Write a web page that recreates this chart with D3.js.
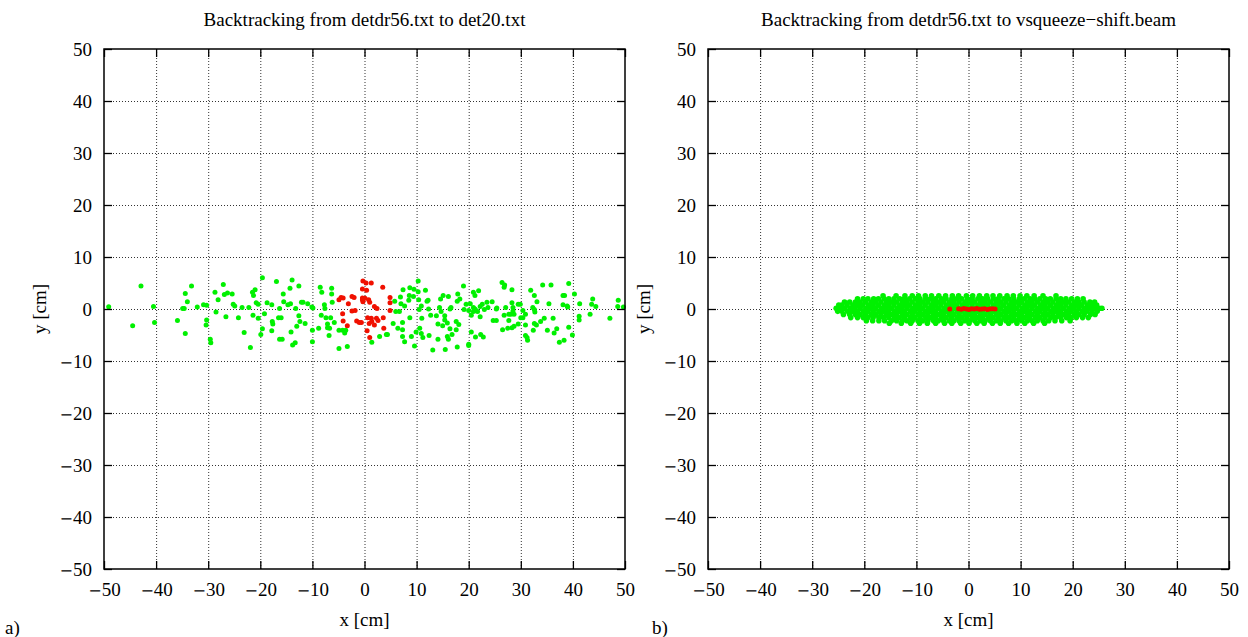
<!DOCTYPE html>
<html>
<head>
<meta charset="utf-8">
<script src="https://cdn.jsdelivr.net/npm/d3@7"></script>
<style>
  html, body { margin: 0; padding: 0; background: #fff; }
  svg { display: block; font-family: "Liberation Serif", "Times New Roman", serif; }
  .grid line { stroke: #333; stroke-width: 1; stroke-dasharray: 1 2; }
  .grid path { display: none; }
  .ax path { display: none; }
  .ax line { stroke: #000; stroke-width: 1.3; }
  .ax text { font-size: 19px; fill: #000; font-family: "Liberation Serif", serif; }
  .ax tspan.minus { font-family: "DejaVu Serif", serif; font-size: 16px; }
</style>
</head>
<body>
<script>
// Tick values shared by both panels
const xTicks = [-50, -40, -30, -20, -10, 0, 10, 20, 30, 40, 50];
const yTicks = [-50, -40, -30, -20, -10, 0, 10, 20, 30, 40, 50];

// Panel a): particles backtracked to det20.txt
const detGreenX = [-49.1,-42.9,-44.5,-40.5,-40.3,-35.9,-34.4,-33.2,-34.0,-34.9,-34.6,-34.4,-32.1,-30.9,-30.3,-30.3,-30.4,-29.6,-29.5,-28.7,-28.1,-28.5,-27.1,-26.9,-26.3,-25.4,-26.6,-25.2,-24.9,
  -19.6,-21.5,-21.0,-21.3,-20.8,-20.4,-23.5,-22.2,-24.2,-21.4,-20.4,-19.2,-19.6,-19.9,-23.1,-21.9,-18.7,-17.8,-16.9,-17.7,-17.6,-17.8,-16.5,-16.0,-16.3,-15.8,-16.3,-15.6,-15.5,-14.7,-14.2,-14.3,-13.9,-12.6,-13.2,-12.6,-12.4,-12.1,-11.8,-13.0,-14.1,-13.3,-13.8,-11.4,-10.9,-10.1,-9.9,-10.0,-10.0,-8.8,-8.5,-8.2,-8.3,-7.7,-7.6,-7.1,-7.1,-6.7,-6.8,-7.4,-6.5,-6.3,-6.3,-6.2,-5.8,-4.9,-4.2,-3.8,-3.6,-4.9,-3.3,
  1.4,2.9,4.2,4.4,5.5,6.4,5.8,6.0,6.9,7.0,7.4,7.7,6.7,7.3,7.3,7.3,7.7,8.6,8.7,9.4,9.5,8.5,8.7,9.0,9.6,9.9,10.3,10.3,10.4,10.5,10.9,10.6,10.9,11.2,11.0,11.7,12.0,12.2,12.3,12.4,12.7,13.1,13.8,14.1,14.1,14.4,14.6,14.7,15.1,15.0,15.4,15.4,15.5,15.9,15.9,16.1,16.1,16.4,16.6,16.4,16.8,17.6,17.6,17.8,17.9,18.3,19.0,17.8,18.1,19.1,19.5,20.0,20.0,20.0,20.3,20.5,20.5,20.9,20.9,21.2,21.4,21.7,20.9,22.2,21.2,21.3,21.9,22.2,22.3,22.8,22.6,23.0,23.7,23.5,24.7,24.5,
  25.3,25.4,25.3,26.4,26.9,26.8,28.3,27.1,28.3,28.5,28.5,26.8,27.7,28.1,28.7,27.7,26.5,27.5,28.3,28.7,29.5,29.9,29.5,30.0,30.4,30.4,30.9,30.9,30.9,31.2,31.3,31.9,32.6,32.3,32.6,32.7,33.1,32.6,33.0,32.4,33.8,34.2,34.5,35.4,35.1,35.8,36.2,36.4,36.9,37.4,38.1,38.4,38.1,38.3,38.9,39.0,39.2,39.2,39.9,40.3,41.3,41.2,41.2,43.3,43.6,43.8,44.4,47.1,48.7,48.6,49.7];
const detGreenY = [0.45,4.4,-3.2,0.5,-2.6,-2.2,3.0,4.4,1.4,0.1,0.1,-4.7,0.4,0.8,0.7,-2.1,-3.1,-5.8,-6.5,3.2,1.8,-0.6,4.7,2.8,3.1,2.9,-1.5,0.9,0.6,
  6.0,3.2,3.7,2.6,1.2,0.9,0.3,0.3,-1.7,-1.2,-1.8,-0.9,-3.8,-4.9,-4.5,-7.4,1.2,0.8,5.3,-2.4,-2.9,-4.2,-1.7,-1.7,-5.8,-5.8,0.1,2.9,1.4,0.8,1.0,4.0,5.6,4.4,0.1,-1.3,-2.4,1.3,1.3,-3.3,-4.4,-6.5,-6.9,-2.8,1.0,0.4,0.2,-4.1,-6.3,-3.7,4.2,3.2,-1.2,0.8,0.1,-2.9,-3.6,-3.7,-5.1,-1.7,-1.7,4.0,2.9,1.3,-2.6,-4.1,-4.1,-4.6,-4.1,-7.6,-7.2,
  -6.4,-5.3,-4.9,-4.9,-2.8,-3.7,1.5,-0.5,2.3,1.0,3.7,0.6,-0.5,-2.6,-4.0,-5.3,-6.3,2.6,4.1,2.4,3.8,1.7,-1.7,-5.3,-7.1,-4.4,5.4,3.3,1.8,-0.1,0.6,-3.7,-4.7,-5.5,-1.8,3.6,1.5,1.7,0.0,-5.1,-1.2,-7.9,-1.3,-2.9,-5.8,0.3,1.9,-0.5,2.6,-3.2,-1.3,-2.1,-7.8,-2.7,-5.3,-5.8,2.4,0.0,0.3,-3.8,-4.9,-4.0,-2.4,1.5,2.9,1.9,4.4,-7.3,-3.0,-0.1,0.9,-0.3,-6.8,-7.0,1.0,-4.4,-1.2,3.2,0.3,0.0,-0.3,-0.5,-0.5,0.5,2.6,-5.4,3.5,-1.5,-4.9,-5.4,0.9,-0.1,0.3,1.3,-2.2,1.4,
  0.0,0.2,-2.2,5.1,4.6,4.2,3.7,0.3,1.2,0.3,-0.4,-1.2,-1.0,-1.0,-1.0,-2.2,-4.0,-3.7,-3.6,-3.3,0.9,0.9,-2.9,-1.7,-1.7,-0.3,-1.0,-3.1,-5.1,-5.5,-6.0,3.6,2.6,0.3,-0.1,-0.6,1.4,-2.8,-3.1,-4.1,-2.4,4.6,-1.8,1.0,-4.1,4.6,-1.8,-4.6,-3.8,-6.4,2.6,2.6,0.8,-6.0,0.6,0.4,-3.5,4.9,-5.0,2.9,1.0,-1.4,-2.1,-1.0,0.9,1.9,0.5,-1.8,1.7,0.5,0.4];
const detRedX = [-4.9,-4.5,-4.1,-3.1,-2.4,-2.0,-4.2,-2.4,-1.8,-1.5,-1.0,-4.1,-3.3,-0.3,-0.4,-0.3,0.3,1.3,0.4,-0.4,0.1,-0.4,0.8,1.0,1.9,2.4,3.5,4.9,4.9,4.9,-0.6,0.6,1.3,0.9,1.4,1.9,2.3,2.6,3.6,3.7,0.5,1.0];
const detRedY = [1.8,2.2,2.1,1.0,2.4,2.2,-0.9,-0.4,-0.3,-2.3,-2.6,-2.3,-3.2,5.4,2.1,1.4,5.0,5.0,3.6,3.85,2.05,1.8,1.8,1.3,0.5,0.1,4.2,2.2,1.2,-0.3,-2.6,-1.7,-1.8,-2.8,-2.4,-3.1,-1.8,-2.2,-1.7,-3.7,-4.2,-5.5];

// Panel b): particles backtracked to vsqueeze-shift.beam (dense beam core, one list per row)
const beamRowY = [2.55, 1.95, 1.35, 0.75, 0.15, -0.45, -1.05, -1.65, -2.25, -2.75];
const beamRowX = [
  [-16.4,-13.9,-12.2,-10.8,-9.6,-8.3,-7.1,-5.7,-4.4,-3.1,-1.9,-0.4,0.8,2.1,3.5,4.7,6.0,7.4,8.6,9.9,11.2,12.6,14.3,16.8],
  [-21.3,-20.2,-19.3,-18.2,-17.3,-16.2,-15.3,-14.3,-13.2,-12.3,-11.3,-10.2,-9.3,-8.2,-7.3,-6.3,-5.2,-4.3,-3.2,-2.3,-1.3,-0.2,0.7,1.8,2.7,3.7,4.8,5.7,6.8,7.7,8.7,9.8,10.7,11.8,12.7,13.7,14.8,15.7,16.8,17.7,18.7,19.8,20.9,22.0],
  [-23.8,-22.8,-21.7,-20.8,-19.8,-18.7,-17.8,-16.8,-15.7,-14.8,-13.8,-12.7,-11.8,-10.8,-9.7,-8.8,-7.8,-6.7,-5.8,-4.8,-3.7,-2.8,-1.8,-0.7,0.2,1.2,2.3,3.2,4.2,5.3,6.2,7.2,8.3,9.2,10.2,11.3,12.2,13.2,14.3,15.2,16.2,17.3,18.2,19.2,20.3,21.2,22.2,23.3,24.2],
  [-24.9,-24.3,-23.3,-22.2,-21.3,-20.3,-19.2,-18.3,-17.3,-16.2,-15.3,-14.3,-13.2,-12.3,-11.3,-10.2,-9.3,-8.3,-7.2,-6.3,-5.3,-4.2,-3.3,-2.3,-1.2,-0.3,0.7,1.8,2.7,3.7,4.8,5.7,6.7,7.8,8.7,9.7,10.8,11.7,12.7,13.8,14.7,15.7,16.8,17.7,18.7,19.8,20.7,21.7,22.8,23.7,24.6],
  [-25.4,-24.8,-23.8,-22.7,-21.8,-20.8,-19.7,-18.8,-17.8,-16.7,-15.8,-14.8,-13.7,-12.8,-11.8,-10.7,-9.8,-8.8,-7.7,-6.8,-5.8,-4.7,-3.8,-2.8,-1.7,-0.8,0.2,1.3,2.2,3.2,4.3,5.2,6.2,7.3,8.2,9.2,10.3,11.2,12.2,13.3,14.2,15.2,16.3,17.2,18.2,19.3,20.2,21.2,22.3,23.2,24.2,25.1,25.6],
  [-25.1,-24.3,-23.2,-22.3,-21.3,-20.2,-19.3,-18.3,-17.2,-16.3,-15.3,-14.2,-13.3,-12.3,-11.2,-10.3,-9.3,-8.2,-7.3,-6.3,-5.2,-4.3,-3.3,-2.2,-1.3,-0.3,0.8,1.7,2.7,3.8,4.7,5.7,6.8,7.7,8.7,9.8,10.7,11.7,12.8,13.7,14.7,15.8,16.7,17.7,18.8,19.7,20.7,21.8,22.7,23.7,24.7],
  [-24.0,-22.8,-21.7,-20.8,-19.8,-18.7,-17.8,-16.8,-15.7,-14.8,-13.8,-12.7,-11.8,-10.8,-9.7,-8.8,-7.8,-6.7,-5.8,-4.8,-3.7,-2.8,-1.8,-0.7,0.2,1.2,2.3,3.2,4.2,5.3,6.2,7.2,8.3,9.2,10.2,11.3,12.2,13.2,14.3,15.2,16.2,17.3,18.2,19.2,20.3,21.2,22.2,23.4,24.3],
  [-22.6,-21.3,-20.2,-19.3,-18.3,-17.2,-16.3,-15.3,-14.2,-13.3,-12.3,-11.2,-10.3,-9.3,-8.2,-7.3,-6.3,-5.2,-4.3,-3.3,-2.2,-1.3,-0.3,0.8,1.7,2.7,3.8,4.7,5.7,6.8,7.7,8.7,9.8,10.7,11.7,12.8,13.7,14.7,15.8,16.7,17.7,18.8,19.7,20.7,21.9,23.0],
  [-19.6,-18.4,-17.2,-16.1,-14.8,-13.8,-12.7,-11.8,-10.8,-9.7,-8.8,-7.8,-6.7,-5.8,-4.8,-3.7,-2.8,-1.8,-0.7,0.2,1.2,2.3,3.2,4.2,5.3,6.2,7.2,8.3,9.2,10.2,11.3,12.2,13.2,14.3,15.4,16.6,17.9,19.5],
  [-15.2,-12.9,-11.1,-9.4,-7.9,-6.3,-4.6,-3.2,-1.5,0.1,1.6,3.0,4.6,6.1,7.7,9.3,10.8,12.5,14.6]
];
const beamRedX = [-3.6,-1.9,-1.4,-0.9,-0.4,0.1,0.6,1.1,1.6,2.1,2.6,3.1,3.6,4.1,4.6,5.1];
const beamRedY = [0.0,0.05,-0.05,0.1,0.0,-0.1,0.05,0.0,0.1,-0.05,0.0,0.05,-0.1,0.0,0.05,0.0];

const titles = ["Backtracking from detdr56.txt to det20.txt",
                "Backtracking from detdr56.txt to vsqueeze\u2212shift.beam"];
const panelTags = ["a)", "b)"];

const W = 1248, H = 637;
const svg = d3.select("body").append("svg").attr("width", W).attr("height", H);

const GREEN = "#00f000", RED = "#f01000";

// Negative tick labels get a long minus sign, as in typeset math
function styleTickText(sel) {
  sel.each(function (d) {
    const t = d3.select(this).text("");
    if (d < 0) {
      t.append("tspan").attr("class", "minus").text("\u2212");
      t.append("tspan").text(Math.abs(d));
    } else {
      t.append("tspan").text(d);
    }
  });
}

function drawPanel(left, idx, greenPts, redPts, dotR, tagX) {
  const top = 49, w = 521, h = 520;
  const x = d3.scaleLinear().domain([-50, 50]).range([0, w]);
  const y = d3.scaleLinear().domain([-50, 50]).range([h, 0]);
  const g = svg.append("g").attr("transform", `translate(${left},${top})`);

  // dotted grid
  g.append("g").attr("class", "grid").attr("transform", `translate(0,${h})`)
    .call(d3.axisBottom(x).tickValues(xTicks.slice(1, -1)).tickSize(-h).tickFormat(""));
  g.append("g").attr("class", "grid")
    .call(d3.axisLeft(y).tickValues(yTicks.slice(1, -1)).tickSize(-w).tickFormat(""));

  // points
  g.append("g").selectAll("circle").data(greenPts).join("circle")
    .attr("cx", d => x(d[0])).attr("cy", d => y(d[1])).attr("r", dotR).attr("fill", GREEN);
  g.append("g").selectAll("circle").data(redPts).join("circle")
    .attr("cx", d => x(d[0])).attr("cy", d => y(d[1])).attr("r", 2.5).attr("fill", RED);

  // inward ticks on all four sides
  const bx = g.append("g").attr("class", "ax").attr("transform", `translate(0,${h})`)
    .call(d3.axisBottom(x).tickValues(xTicks).tickSize(-8));
  bx.selectAll("text").attr("y", 27).attr("dy", 0).call(styleTickText);
  g.append("g").attr("class", "ax")
    .call(d3.axisTop(x).tickValues(xTicks).tickSize(-8).tickFormat(""));
  const ly = g.append("g").attr("class", "ax")
    .call(d3.axisLeft(y).tickValues(yTicks).tickSize(-8));
  ly.selectAll("text").attr("x", -12).attr("dy", "0.34em").call(styleTickText);
  g.append("g").attr("class", "ax").attr("transform", `translate(${w},0)`)
    .call(d3.axisRight(y).tickValues(yTicks).tickSize(-8).tickFormat(""));

  // frame
  g.append("rect").attr("width", w).attr("height", h)
    .attr("fill", "none").attr("stroke", "#000").attr("stroke-width", 1.5);

  // labels
  g.append("text").attr("x", w / 2).attr("y", -23).attr("text-anchor", "middle")
    .attr("font-size", 19).text(titles[idx]);
  g.append("text").attr("x", w / 2).attr("y", h + 57).attr("text-anchor", "middle")
    .attr("font-size", 19).text("x [cm]");
  g.append("text").attr("transform", `translate(-58,${h / 2}) rotate(-90)`)
    .attr("text-anchor", "middle").attr("font-size", 19).text("y [cm]");
  svg.append("text").attr("x", tagX).attr("y", top + h + 65)
    .attr("font-size", 19).text(panelTags[idx]);
}

const detGreen = detGreenX.map((v, i) => [v, detGreenY[i]]);
const detRed = detRedX.map((v, i) => [v, detRedY[i]]);
const beamGreen = beamRowX.flatMap((row, r) => row.map(v => [v, beamRowY[r]]));
const beamRed = beamRedX.map((v, i) => [v, beamRedY[i]]);

drawPanel(104, 0, detGreen, detRed, 2.5, 5);
drawPanel(708, 1, beamGreen, beamRed, 2.8, 652);
</script>
</body>
</html>
